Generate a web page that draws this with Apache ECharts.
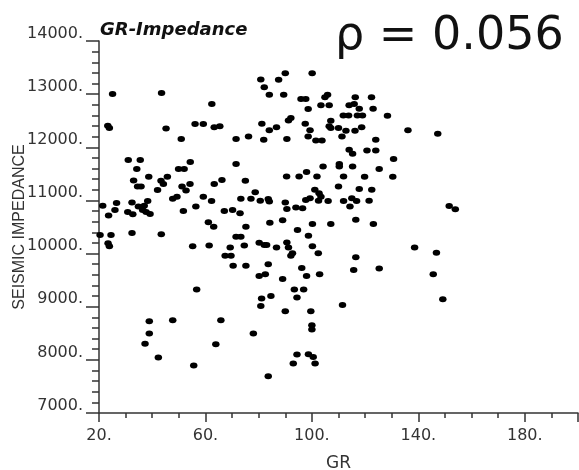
<!DOCTYPE html>
<html lang="en">
<head>
    <meta charset="UTF-8">
    <title>GR-Impedance</title>
    <script src="https://cdn.jsdelivr.net/npm/echarts@6.0.0/dist/echarts.min.js"></script>
    <style>
        html, body {margin: 0; padding: 0; background: #fff;}
        #main {width: 579px; height: 470px;}
    </style>
</head>
<body>
<div id="main"></div>
<script type="text/javascript">
    // GR readings (x)
    var grValues = [
        25.1, 43.5, 62.4, 23.3, 23.9, 45.2, 56.1, 59.2, 63.3, 65.4,
        50.9, 31.0, 35.5, 54.3, 34.2, 49.9, 52.0, 38.7, 33.0, 45.7,
        43.3, 44.2, 34.5, 35.8, 66.2, 63.3, 54.2, 51.2, 52.7, 42.0,
        49.3, 47.7, 59.2, 62.3, 56.4, 21.4, 26.6, 32.4, 38.3, 34.8,
        37.0, 26.0, 23.6, 30.8, 32.7, 36.4, 37.7, 39.2, 51.7, 67.1,
        61.1, 63.1, 20.4, 24.5, 32.4, 43.4, 23.4, 23.9, 55.2, 61.4,
        67.4, 69.6, 56.7, 38.9, 47.7, 65.8, 38.9, 37.3, 63.9, 42.3,
        55.6,
        90.0, 100.1, 80.8, 87.5, 82.1, 84.0, 89.4, 95.9, 97.7, 104.9,
        105.9, 98.6, 103.4, 106.5, 92.1, 91.2, 81.2, 97.5, 84.0, 86.7,
        99.3, 107.1, 106.5, 107.1, 110.0, 111.3, 71.5, 76.2, 81.9, 90.6,
        98.6, 101.5, 103.8, 71.5, 75.0, 90.5, 95.2, 98.0, 101.9, 104.2,
        110.3, 110.3, 111.9, 78.7, 73.3, 77.1, 80.6, 83.6, 84.0, 90.0,
        90.6, 94.0, 96.5, 97.7, 99.3, 101.1, 102.7, 103.4, 102.5, 106.1,
        110.0, 111.9, 70.2, 73.0, 84.2, 89.0, 75.2, 94.6, 98.7, 100.2,
        107.1, 71.5, 73.3,
        69.3, 74.6, 80.2, 82.1, 83.0, 86.7, 90.6, 91.2, 100.2, 92.7,
        92.1, 102.4, 70.4, 75.2, 83.6, 80.2, 82.5, 89.0, 96.2, 98.0,
        102.9, 93.4, 96.9, 94.4, 81.1, 84.6, 80.8, 90.0, 99.6, 111.5,
        100.0, 100.0, 78.0, 94.4, 98.7, 100.5, 93.0, 101.2, 83.6,
        116.3, 122.4, 114.0, 115.9, 117.8, 123.0, 111.8, 113.8, 117.1, 119.0,
        128.4, 112.8, 116.2, 118.7, 136.1, 147.3, 124.0, 114.0, 115.3, 120.7,
        124.0, 130.7, 115.3, 125.3, 119.8, 130.4, 117.8, 122.5, 115.0, 116.8,
        121.5, 114.3, 151.6, 153.9, 116.5, 123.1,
        116.5, 115.7, 125.3, 138.6, 146.8, 145.6, 149.2
    ];
    // seismic impedance readings (y)
    var impedanceValues = [
        13005, 13020, 12815, 12405, 12365, 12355, 12440, 12440, 12375, 12395,
        12155, 11760, 11760, 11725, 11590, 11590, 11590, 11445, 11375, 11445,
        11370, 11310, 11260, 11260, 11385, 11310, 11310, 11260, 11185, 11195,
        11070, 11030, 11070, 10990, 10885, 10900, 10950, 10960, 10990, 10885,
        10900, 10820, 10715, 10780, 10740, 10820, 10780, 10745, 10800, 10800,
        10590, 10505, 10350, 10350, 10385, 10365, 10195, 10140, 10140, 10150,
        9960, 9960, 9325, 8725, 8745, 8745, 8495, 8305, 8295, 8045,
        7895,
        13395, 13395, 13275, 13270, 13130, 12990, 12990, 12910, 12910, 12940,
        12990, 12720, 12790, 12790, 12550, 12505, 12445, 12445, 12320, 12375,
        12320, 12500, 12395, 12365, 12365, 12205, 12155, 12205, 12140, 12155,
        12205, 12130, 12130, 11685, 11370, 11450, 11450, 11535, 11450, 11640,
        11685, 11640, 11450, 11155, 11030, 11030, 10995, 11025, 10980, 10960,
        10840, 10865, 10855, 11010, 11040, 11200, 11135, 11070, 10995, 10990,
        11260, 10990, 10820, 10760, 10580, 10625, 10505, 10445, 10335, 10555,
        10555, 10315, 10315,
        10115, 10150, 10205, 10160, 10160, 10115, 10210, 10115, 10140, 10005,
        9960, 10005, 9770, 9770, 9800, 9580, 9610, 9520, 9730, 9580,
        9610, 9325, 9325, 9175, 9155, 9200, 9015, 8915, 8915, 9030,
        8650, 8570, 8495, 8100, 8105, 8055, 7930, 7930, 7690,
        12940, 12940, 12790, 12815, 12725, 12725, 12600, 12600, 12600, 12600,
        12595, 12310, 12310, 12375, 12320, 12255, 12140, 11955, 11880, 11940,
        11940, 11780, 11640, 11590, 11445, 11445, 11215, 11200, 11040, 10990,
        10995, 10885, 10895, 10835, 10635, 10555,
        9930, 9690, 9720, 10115, 10015, 9610, 9140
    ];
    var grRange = [20, 200, 40];          // min, max, interval
    var impedanceRange = [7000, 14000, 1000];
    var chartTitle = 'GR-Impedance';
    var rhoText = '\u03c1 = 0.056';

    var points = [];
    for (var i = 0; i < grValues.length; i++) {
        points.push([grValues[i], impedanceValues[i]]);
    }

    var labelFont = 'DejaVu Sans';
    var axisColor = '#333';

    var myChart = echarts.init(document.getElementById('main'));
    var option = {
        animation: false,
        backgroundColor: '#fff',
        title: {
            text: chartTitle,
            left: 100,
            top: 21,
            padding: 0,
            textStyle: {
                fontFamily: labelFont,
                fontSize: 18,
                fontWeight: 'bold',
                fontStyle: 'italic',
                color: '#111'
            }
        },
        graphic: [{
            type: 'text',
            left: 335,
            top: 14,
            style: {
                text: rhoText,
                font: '46px "DejaVu Sans"',
                fill: '#111'
            }
        }],
        grid: {left: 99, right: 1, top: 41, bottom: 57, containLabel: false, outerBoundsMode: 'none'},
        xAxis: {
            type: 'value',
            min: grRange[0],
            max: grRange[1],
            interval: grRange[2],
            name: 'GR',
            nameLocation: 'middle',
            nameGap: 42,
            nameMoveOverlap: false,
            nameTextStyle: {fontFamily: labelFont, fontSize: 17, color: '#333'},
            axisLine: {show: true, onZero: false, lineStyle: {color: axisColor, width: 1.5}},
            axisTick: {show: true, inside: false, length: 9, lineStyle: {color: axisColor, width: 1.5}},
            minorTick: {show: true, splitNumber: 4, length: 5, lineStyle: {color: axisColor, width: 1.5}},
            splitLine: {show: false},
            axisLabel: {
                showMaxLabel: false,
                margin: 15,
                fontFamily: labelFont,
                fontSize: 16,
                color: '#333',
                formatter: function (v) { return v + '.'; }
            }
        },
        yAxis: {
            type: 'value',
            min: impedanceRange[0],
            max: impedanceRange[1],
            interval: impedanceRange[2],
            name: 'SEISMIC IMPEDANCE',
            nameLocation: 'middle',
            nameGap: 71,
            nameRotate: 90,
            nameMoveOverlap: false,
            nameTextStyle: {fontFamily: 'Liberation Sans', fontSize: 16, color: '#333'},
            axisLine: {show: true, onZero: false, lineStyle: {color: axisColor, width: 1.5}},
            axisTick: {show: true, inside: false, length: 13, lineStyle: {color: axisColor, width: 1.5}},
            minorTick: {show: true, splitNumber: 5, length: 7, lineStyle: {color: axisColor, width: 1.5}},
            splitLine: {show: false},
            axisLabel: {
                margin: 16,
                verticalAlign: 'bottom',
                lineHeight: 15,
                fontFamily: labelFont,
                fontSize: 16,
                color: '#333',
                formatter: function (v) { return v + '.'; }
            }
        },
        series: [{
            type: 'scatter',
            data: points,
            symbol: 'circle',
            symbolSize: [7.5, 6],
            itemStyle: {color: '#000', opacity: 1}
        }]
    };
    myChart.setOption(option);
</script>
</body>
</html>
